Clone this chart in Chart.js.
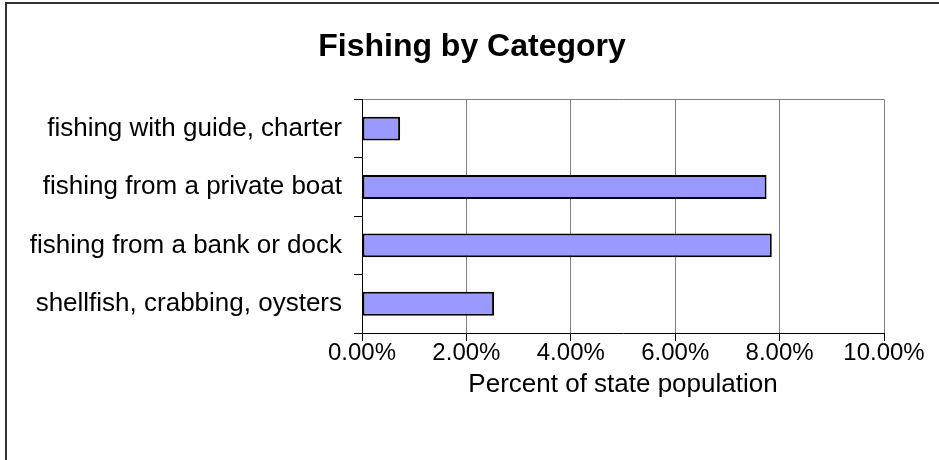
<!DOCTYPE html>
<html>
<head>
<meta charset="utf-8">
<script src="https://cdn.jsdelivr.net/npm/chart.js@4/dist/chart.umd.min.js"></script>
<style>
  html, body { margin: 0; padding: 0; background: #fff; }
  #frame {
    position: absolute; left: 5px; top: 2px;
    width: 1000px; height: 600px;
    border-left: 2px solid #333; border-top: 2px solid #333;
  }
  #fishChart { position: absolute; left: 0; top: 0; }
</style>
</head>
<body>
<div id="frame"></div>
<canvas id="fishChart" width="939" height="460"></canvas>
<script>
// Données (pourcentage de la population)
const categories = [
    'fishing with guide, charter',
    'fishing from a private boat',
    'fishing from a bank or dock',
    'shellfish, crabbing, oysters'
];
const percentValues = [0.73, 7.75, 7.85, 2.53];
const xTicks = [0, 2, 4, 6, 8, 10];

const ctx = document.getElementById('fishChart').getContext('2d');
Chart.defaults.font.family = 'Arial, "Liberation Sans", sans-serif';
Chart.defaults.color = '#000';

const myChart = new Chart(ctx, {
    type: 'bar',
    data: {
        labels: categories,
        datasets: [{
            data: percentValues,
            backgroundColor: '#9999ff',
            borderColor: '#000',
            borderWidth: 2,
            borderSkipped: false,
            barPercentage: 0.41,
            categoryPercentage: 1
        }]
    },
    options: {
        indexAxis: 'y',
        responsive: false,
        animation: false,
        layout: { padding: { left: 5, right: 0, top: 0, bottom: 60 } },
        plugins: {
            legend: { display: false },
            tooltip: { enabled: false },
            title: {
                display: true,
                text: 'Fishing by Category',
                font: { size: 32, weight: 'bold' },
                color: '#000',
                padding: { top: 28, bottom: 33 }
            }
        },
        scales: {
            x: {
                min: 0,
                max: 10,
                afterBuildTicks: axis => { axis.ticks = xTicks.map(v => ({ value: v })); },
                // marge à droite du graphique (le titre reste centré sur toute la largeur)
                afterFit: axis => { axis.paddingRight = 55; },
                ticks: {
                    font: { size: 24 },
                    padding: -2,
                    maxRotation: 0,
                    callback: v => v.toFixed(2) + '%'
                },
                grid: { color: '#808080', tickColor: '#000', tickLength: 8, lineWidth: 1 },
                border: { color: '#000', width: 1 },
                title: {
                    display: true,
                    text: 'Percent of state population',
                    font: { size: 26 },
                    padding: { top: 3, bottom: 0 }
                }
            },
            y: {
                afterFit: axis => { axis.width = 357; },
                ticks: { font: { size: 26 }, padding: 12 },
                grid: {
                    offset: true,
                    color: c => c.index === 0 ? '#808080' : 'rgba(0,0,0,0)',
                    tickColor: '#000',
                    tickLength: 8
                },
                border: { color: '#000', width: 1 }
            }
        }
    }
});
</script>
</body>
</html>
